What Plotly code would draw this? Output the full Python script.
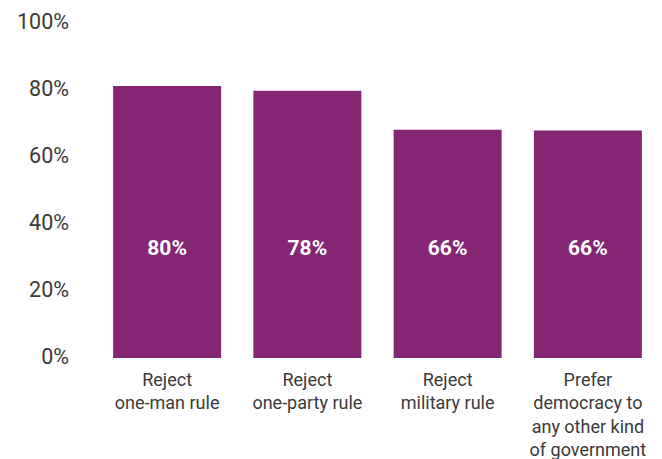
import plotly.graph_objects as go

categories = ["Reject<br>one-man rule", "Reject<br>one-party rule", "Reject<br>military rule",
              "Prefer<br>democracy to<br>any other kind<br>of government"]
values = [81.2, 79.8, 68.1, 67.9]
value_labels = ["80%", "78%", "66%", "66%"]
tick_vals = [0, 20, 40, 60, 80, 100]
tick_text = ["0%", "20%", "40%", "60%", "80%", "100%"]

LABEL_Y = 32.2
BAR_COLOR = "#852675"
TEXT_COLOR = "#3a3a3a"
FONT = "Roboto"

fig = go.Figure()
fig.add_trace(go.Bar(x=categories, y=values, marker_color=BAR_COLOR,
                     marker_line_width=0, hoverinfo="skip"))
fig.add_trace(go.Scatter(x=categories, y=[LABEL_Y] * len(categories), mode="text",
                         text=value_labels,
                         textfont=dict(family=FONT, size=21, color="white", weight="bold"),
                         hoverinfo="skip"))

fig.update_layout(
    width=662, height=459,
    margin=dict(l=97, r=4, t=23, b=101),
    paper_bgcolor="white", plot_bgcolor="white",
    showlegend=False, bargap=0.23,
    font=dict(family=FONT, color=TEXT_COLOR),
)
fig.update_xaxes(showgrid=False, zeroline=False, showline=False, ticks="",
                 tickfont=dict(size=18, color=TEXT_COLOR), tickangle=0,
                 automargin=False, ticklabelstandoff=9)
fig.update_yaxes(range=[0, 100], showgrid=False, zeroline=False, showline=False,
                 tickvals=tick_vals, ticktext=tick_text, ticks="",
                 tickfont=dict(size=21.5, color=TEXT_COLOR), automargin=False,
                 ticklabelstandoff=27, ticklabelshift=-2)

fig.write_html("out.html", post_script="document.body.style.margin='0px';",
               config={"displayModeBar": False})
